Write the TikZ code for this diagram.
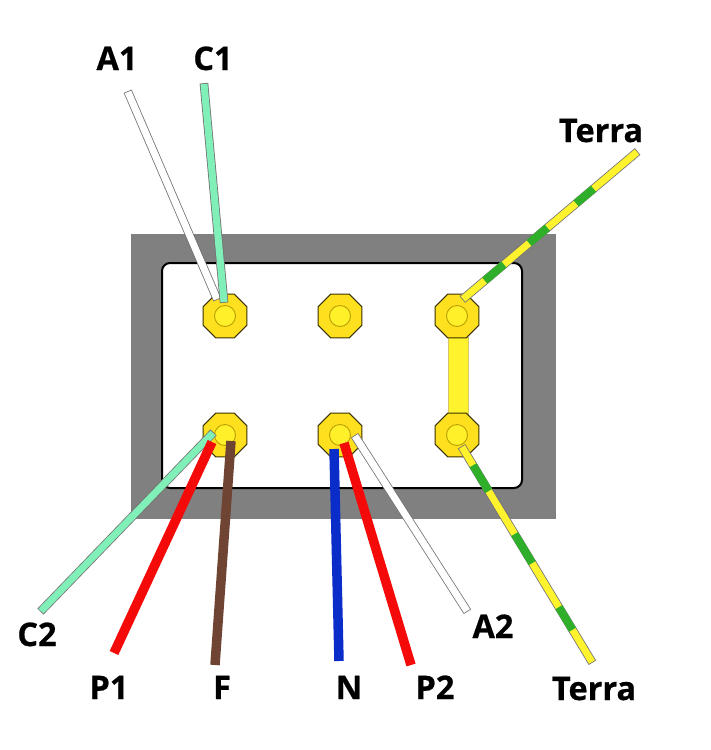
\documentclass[tikz,border=0pt]{standalone}
\usepackage{fontspec}
\setmainfont[BoldFeatures={FakeBold=0.6}]{Open Sans}
\usetikzlibrary{shapes.geometric,calc}
\definecolor{frameg}{HTML}{808080}
\definecolor{brass}{HTML}{FFE01E}
\definecolor{brassline}{HTML}{3A3200}
\definecolor{innerc}{HTML}{FFF02A}
\definecolor{innerline}{HTML}{B8A000}
\definecolor{mint}{HTML}{80F0B8}
\definecolor{wred}{HTML}{F50A0A}
\definecolor{wbrown}{HTML}{6F4433}
\definecolor{wblue}{HTML}{0A2CC8}
\definecolor{wyellow}{HTML}{FFF32D}
\definecolor{wgreen}{HTML}{2FAE2A}
\tikzset{
  lab/.style={anchor=base,inner sep=0pt,font=\fontsize{32.5}{33}\selectfont\bfseries,text=black},
  term/.style={regular polygon,regular polygon sides=8,minimum size=47.6pt,inner sep=0pt,draw=brassline,line width=1pt,fill=brass},
  termin/.style={circle,minimum size=21pt,inner sep=0pt,draw=innerline,line width=.9pt,fill=innerc},
  wirethin/.style={line width=7pt,draw=#1,preaction={draw=black!55,line width=8.6pt,shorten >=-.8pt,shorten <=-.8pt}},
  wirebold/.style={line width=9.5pt,draw=#1},
  stripe/.style={line width=8pt,draw=wgreen},
}
\begin{document}
\begin{tikzpicture}[x=1pt,y=-1pt]
\useasboundingbox (0,0) rectangle (711,750);
\fill[white] (0,0) rectangle (711,750);
\node[draw=none,fill=frameg,minimum width=425pt,minimum height=285pt,inner sep=0pt] (frame) at (343.5,376.5) {};
\node[draw=black,line width=2pt,fill=white,rounded corners=8pt,minimum width=360pt,minimum height=225pt,inner sep=0pt] (panel) at (342,375.5) {};
% bridge
\node[fill=wyellow,draw=innerline!60,line width=.4pt,minimum width=20pt,minimum height=78pt,inner sep=0pt] (bridge) at (458,376) {};
% terminals
\node[term] (t1) at (225,316) {};
\node[term] (t2) at (340,316) {};
\node[term] (t3) at (457,316) {};
\node[term] (t4) at (225,435) {};
\node[term] (t5) at (340,435) {};
\node[term] (t6) at (457,435) {};
\node[termin] (c1) at (t1) {};
\node[termin] (c2) at (t2) {};
\node[termin] (c3) at (t3) {};
\node[termin] (c4) at (t4) {};
\node[termin] (c5) at (t5) {};
\node[termin] (c6) at (t6) {};
% free ends and wire ends
\coordinate (eA1) at (128,92);   \coordinate (sA1) at (217,299);
\coordinate (eC1) at (204,84);   \coordinate (sC1) at (224,302);
\coordinate (eC2) at (41,611);   \coordinate (sC2) at (213,433);
\coordinate (eP1) at (114,653);  \coordinate (sP1) at (212,442);
\coordinate (eF)  at (215,665);  \coordinate (sF)  at (231,441);
\coordinate (eN)  at (339,661);  \coordinate (sN)  at (334,449);
\coordinate (eP2) at (411,665);  \coordinate (sP2) at (344,443);
\coordinate (eA2) at (467,611);  \coordinate (sA2) at (355,436);
\coordinate (eT1) at (637,152);  \coordinate (sT1) at (463,299);
\coordinate (eT2) at (592,662);  \coordinate (sT2) at (462,447);
% wires
\draw[wirethin=white] (sA1) -- (eA1);
\draw[wirethin=mint] (sC1) -- (eC1);
\draw[wirethin=mint] (sC2) -- (eC2);
\draw[wirebold=wred] (sP1) -- (eP1);
\draw[wirebold=wbrown] (sF) -- (eF);
\draw[wirebold=wblue] (sN) -- (eN);
\draw[wirethin=white] (sA2) -- (eA2);
\draw[wirebold=wred] (sP2) -- (eP2);
\draw[wirethin=wyellow] (sT1) -- (eT1);
\draw[stripe] ($(sT1)!.125!(eT1)$) -- ($(sT1)!.235!(eT1)$);
\draw[stripe] ($(sT1)!.38!(eT1)$) -- ($(sT1)!.485!(eT1)$);
\draw[stripe] ($(sT1)!.65!(eT1)$) -- ($(sT1)!.75!(eT1)$);
\draw[wirethin=wyellow] (sT2) -- (eT2);
\draw[stripe] ($(sT2)!.085!(eT2)$) -- ($(sT2)!.205!(eT2)$);
\draw[stripe] ($(sT2)!.405!(eT2)$) -- ($(sT2)!.54!(eT2)$);
\draw[stripe] ($(sT2)!.745!(eT2)$) -- ($(sT2)!.85!(eT2)$);
% labels
\node[lab] (lA1) at (117,70) {A1};
\node[lab] (lC1) at (213,70) {C1};
\node[lab] (lT1) at (601,142) {Terra};
\node[lab] (lC2) at (37,646) {C2};
\node[lab] (lA2) at (493,638) {A2};
\node[lab] (lP1) at (109,699) {P1};
\node[lab] (lF) at (222,699) {F};
\node[lab] (lN) at (349,699) {N};
\node[lab] (lP2) at (435,699) {P2};
\node[lab] (lT2) at (594,700) {Terra};
\end{tikzpicture}
\end{document}
